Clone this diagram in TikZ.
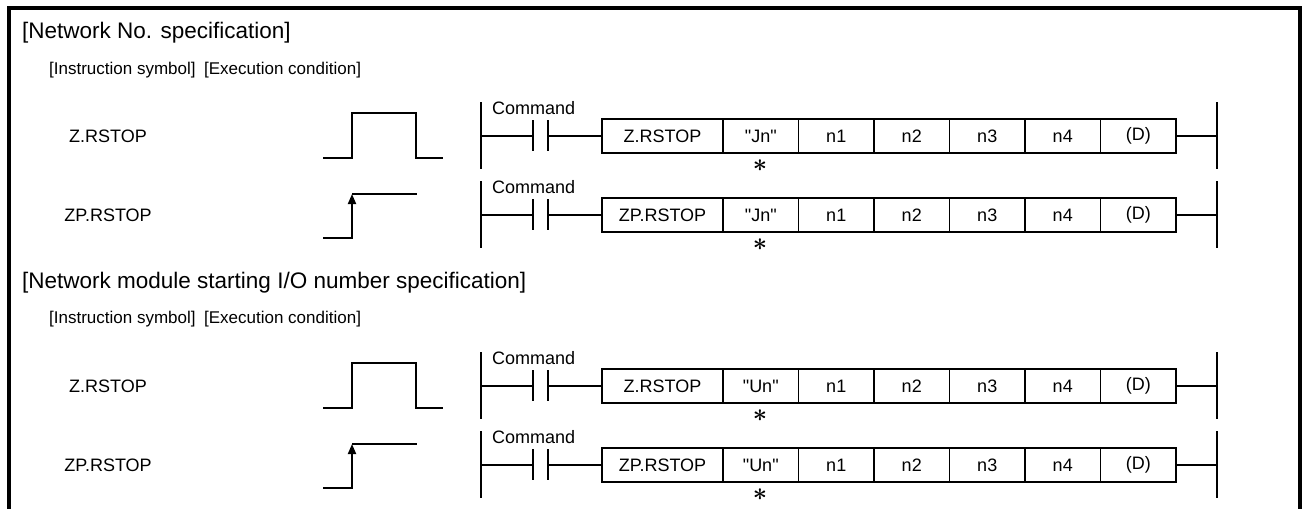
\documentclass[tikz,border=0pt]{standalone}
\usepackage{fontspec}
\setmainfont{Liberation Sans}
\usetikzlibrary{positioning,arrows.meta}

\tikzset{
  cell/.style={draw,line width=1.3pt,minimum width=75.5pt,minimum height=34pt,
    inner sep=0pt,outer sep=0pt,font=\fontsize{18}{20}\selectfont},
  txt/.style={inner sep=0pt,font=\fontsize{18}{20}\selectfont},
  head/.style={inner sep=0pt,anchor=west,font=\fontsize{22.5}{24}\selectfont},
  sub/.style={inner sep=0pt,anchor=west,font=\fontsize{17}{19}\selectfont},
  wire/.style={line width=1.8pt}
}

\begin{document}
\begin{tikzpicture}[x=1pt,y=-1pt]
  \useasboundingbox (0,0) rectangle (1302,509);
  % frame
  \draw[line width=4pt] (9,509) -- (9,8) -- (1300,8) -- (1300,509);

  % section titles
  \node[head] (hd1) at (22,33) {[Network No. specification]};
  \node[sub] (sb1) at (49,70) {[Instruction symbol]\enspace[Execution condition]};
  \node[head] (hd2) at (22,283) {[Network module starting I/O number specification]};
  \node[sub] (sb2) at (49,319) {[Instruction symbol]\enspace[Execution condition]};

  \foreach \y/\ins/\sig [count=\i] in {136/Z.RSTOP/Jn, 215/ZP.RSTOP/Jn,
                                        386/Z.RSTOP/Un, 465/ZP.RSTOP/Un} {
    % instruction symbol
    \node[txt] (lab\i) at (108,\y) {\ins};
    % execution condition
    \ifodd\i
      \draw[wire] (323,\y+22) -- (352,\y+22) -- (352,\y-23) -- (416,\y-23)
        -- (416,\y+22) -- (443,\y+22);
    \else
      \draw[wire,-{Triangle[width=8pt,length=10pt]}] (323,\y+23) -- (352,\y+23) -- (352,\y-21);
      \draw[wire] (352,\y-21) -- (417,\y-21);
    \fi
    % ladder
    \coordinate (lt\i) at (481,\y-34);
    \coordinate (lb\i) at (481,\y+33);
    \coordinate (lr\i) at (481,\y);
    \coordinate (ca\i) at (533,\y);
    \coordinate (cb\i) at (548,\y);
    \coordinate (rt\i) at (1217,\y-34);
    \coordinate (rb\i) at (1217,\y+33);
    \coordinate (rr\i) at (1217,\y);
    \node[txt,anchor=west] (cmd\i) at (492,\y-28) {Command};
    \draw[wire] (lt\i) -- (lb\i);
    \draw[wire] (lr\i) -- (ca\i);
    \draw[wire] ([yshift=16pt]ca\i) -- ([yshift=-15pt]ca\i);
    \draw[wire] ([yshift=16pt]cb\i) -- ([yshift=-15pt]cb\i);
    \node[cell,minimum width=121pt] (ins\i) at (662.5,\y) {\ins};
    \node[cell,right=0pt of ins\i] (sig\i) {\textquotedbl\sig\textquotedbl};
    \node[cell,right=0pt of sig\i] (na\i) {n1};
    \node[cell,right=0pt of na\i] (nb\i) {n2};
    \node[cell,right=0pt of nb\i] (nc\i) {n3};
    \node[cell,right=0pt of nc\i] (nd\i) {n4};
    \node[cell,right=0pt of nd\i] (dev\i) {(D)};
    \draw[wire] (cb\i) -- (ins\i.west);
    \draw[wire] (dev\i.east) -- (rr\i);
    \draw[wire] (rt\i) -- (rb\i);
    \node[txt,font=\fontsize{30}{30}\selectfont\boldmath] (ast\i) at (760,\y+30) {$\ast$};
  }
\end{tikzpicture}
\end{document}
